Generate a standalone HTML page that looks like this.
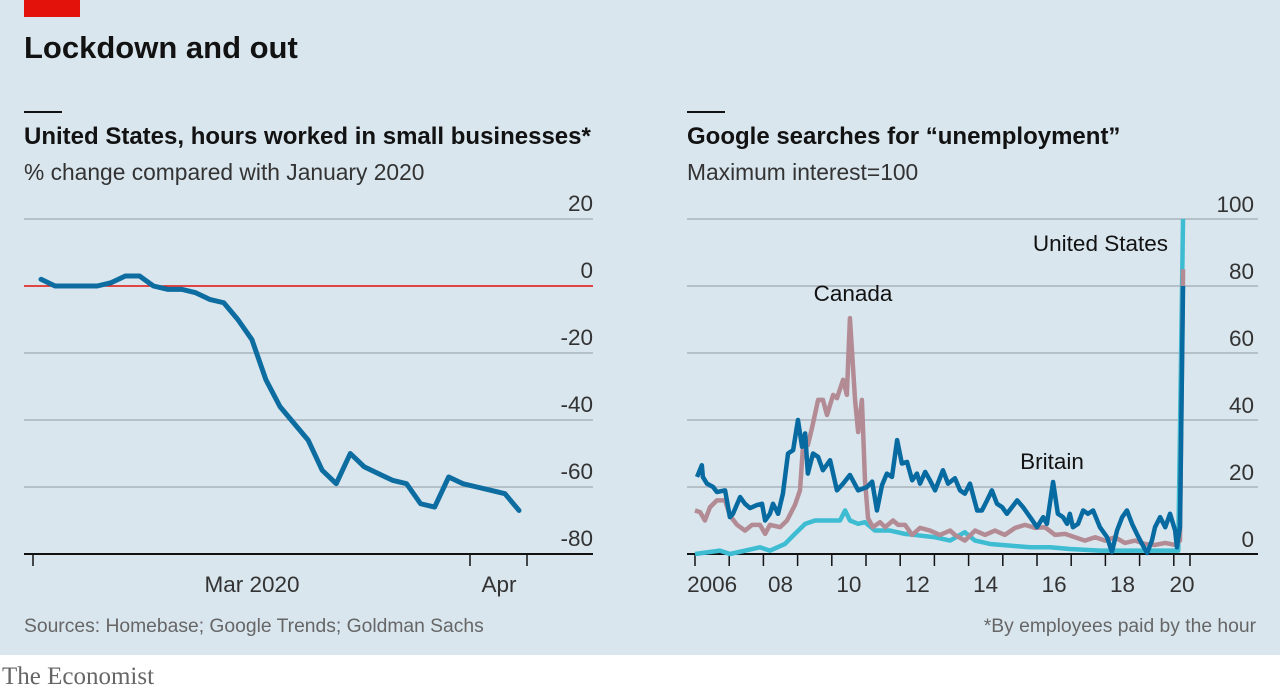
<!DOCTYPE html>
<html><head><meta charset="utf-8">
<style>
body{margin:0;width:1280px;height:691px;overflow:hidden;background:#fff;font-family:"Liberation Sans",sans-serif}
#bg{position:absolute;left:0;top:0;width:1280px;height:655px;background:#d9e6ee}
</style></head>
<body>
<div id="bg"></div>
<svg id="svg" width="1280" height="691" style="position:absolute;left:0;top:0" font-family="Liberation Sans, sans-serif">
<rect x="24" y="0" width="56" height="17" fill="#e3120b"/>
<text x="24" y="58" font-size="31" font-weight="bold" fill="#121212">Lockdown and out</text>
<rect x="24" y="111" width="38" height="2" fill="#121212"/>
<text x="24" y="144" font-size="24" font-weight="bold" fill="#121212">United States, hours worked in small businesses*</text>
<text x="24" y="180" font-size="22.8" fill="#333">% change compared with January 2020</text>
<rect x="687" y="111" width="38" height="2" fill="#121212"/>
<text x="687" y="144" font-size="24" font-weight="bold" fill="#121212">Google searches for “unemployment”</text>
<text x="687" y="180" font-size="22.8" fill="#333">Maximum interest=100</text>
<text x="24" y="632" font-size="19.3" fill="#666">Sources: Homebase; Google Trends; Goldman Sachs</text>
<text x="1256" y="632" font-size="19.3" fill="#666" text-anchor="end">*By employees paid by the hour</text>
<text x="2" y="684" font-size="25" fill="#666" font-family="Liberation Serif, serif">The Economist</text>
<g id="left"></g><g id="right"></g>
</svg>
<script>
// Left chart data
const leftDays = [0,2,4,6,8,10,12,14,16,18,20,22,24,26,28,30,32,34,36,38,40,42,44,46,48,50,52,54,56,58,60,62,64,66,68];
const leftVals = [2,0,0,0,0,1,3,3,0,-1,-1,-2,-4,-5,-10,-16,-28,-36,-41,-46,-55,-59,-50,-54,-56,-58,-59,-65,-66,-57,-59,-60,-61,-62,-67];
const leftTicks = [20,0,-20,-40,-60,-80];
// Right chart data
const rightTicks = [100,80,60,40,20,0];
const yearLabels = ["2006","08","10","12","14","16","18","20"];
const yearLabelYears = [2006,2008,2010,2012,2014,2016,2018,2020];
const britainYears = [2006.06,2006.20,2006.23,2006.35,2006.53,2006.64,2006.88,2007.02,2007.11,2007.32,2007.46,2007.61,2007.81,2007.96,2008.05,2008.19,2008.28,2008.43,2008.57,2008.72,2008.87,2009.01,2009.13,2009.22,2009.30,2009.45,2009.60,2009.74,2009.95,2010.15,2010.33,2010.53,2010.77,2011.03,2011.18,2011.32,2011.47,2011.61,2011.76,2011.91,2012.05,2012.20,2012.35,2012.49,2012.58,2012.73,2012.87,2013.02,2013.25,2013.40,2013.60,2013.75,2013.89,2014.04,2014.25,2014.39,2014.54,2014.68,2014.83,2014.98,2015.12,2015.27,2015.42,2015.59,2015.80,2016.00,2016.18,2016.29,2016.47,2016.61,2016.76,2016.88,2016.96,2017.05,2017.20,2017.35,2017.49,2017.64,2017.84,2018.05,2018.19,2018.34,2018.49,2018.63,2018.78,2018.92,2019.07,2019.22,2019.36,2019.45,2019.60,2019.75,2019.89,2020.04,2020.09,2020.18,2020.27];
const britainVals = [23,26.5,23,21,20,18.5,19,11,12,17,15,13.7,14.6,15,10,12,15,12,18,30,31,40,32,36,24,30,29,25,28,19,21,23.6,19,20,21.6,13,20.6,24,23,34,27,27.5,22,24,21,24.5,22,19,25,21,22.6,19,18,21,13,13,16,19,15,14,12,14,16,14,11,8,11,9,21.5,12,11,9,12,8,9,13,12,13,8,5,0.6,7,11,13,9,6,3,0.3,4,8,11,8,12,7,2,8,80];
const usYears = [2006.0,2006.73,2007.02,2007.90,2008.19,2008.63,2008.92,2009.22,2009.51,2009.95,2010.24,2010.39,2010.53,2010.77,2010.97,2011.26,2011.70,2012.14,2012.58,2013.02,2013.46,2013.89,2014.19,2014.63,2015.21,2015.80,2016.38,2016.96,2017.84,2018.72,2019.60,2020.13,2020.27];
const usVals = [0,1,0,2,1,3,6,9,10,10,10,13,10,9,9.5,7,7,6,5.5,5,4,6.5,4,3,2.5,2,2,1.5,1,1,1,1,100];
const canadaYears = [2006.0,2006.15,2006.29,2006.44,2006.64,2006.88,2007.02,2007.23,2007.46,2007.67,2007.90,2008.05,2008.19,2008.49,2008.69,2008.92,2009.07,2009.16,2009.30,2009.42,2009.60,2009.74,2009.86,2010.04,2010.15,2010.33,2010.44,2010.53,2010.68,2010.77,2010.88,2010.97,2011.06,2011.20,2011.41,2011.56,2011.79,2011.94,2012.14,2012.35,2012.58,2012.87,2013.16,2013.46,2013.60,2013.89,2014.19,2014.48,2014.77,2015.06,2015.36,2015.65,2015.94,2016.23,2016.53,2016.82,2017.11,2017.40,2017.70,2017.99,2018.28,2018.57,2018.87,2019.16,2019.45,2019.75,2020.04,2020.18,2020.27];
const canadaVals = [13,12.5,10,14,16,16,11.5,8.7,7,8.7,8.7,6,8.7,8,10,14.6,19,32.5,32.5,37.6,46,46,41.5,47.5,46.5,52,47.5,70.4,46,36.4,46,22,10.7,8,9.5,8,10,8.7,8.7,5.7,7.8,7,5.7,7,5.7,4,7,5.7,7,5.7,7.8,8.7,7.8,8,5.7,6,5,4,5,4,5,3.3,4,3,2.7,3.3,2.7,4,85];

const NS="http://www.w3.org/2000/svg";
function mk(parent,tag,attrs){const e=document.createElementNS(NS,tag);for(const k in attrs)e.setAttribute(k,attrs[k]);parent.appendChild(e);return e;}
const yScaleL=v=>286-v*3.35;
const xScaleL=d=>41+d*(519-41)/68;
const yScaleR=v=>554-v*3.35;
const xScaleR=y=>695+(y-2006)*34.2;

const L=document.getElementById('left');
leftTicks.forEach(t=>{
  const l=mk(L,'line',{x1:24,x2:593,y1:yScaleL(t),y2:yScaleL(t),stroke:t===0?'#e3120b':(t===-80?'#121212':'#aab4bb'),'stroke-width':t===-80?2:1.5});
  
  
  const tx=mk(L,'text',{x:593,y:yScaleL(t)-8,'text-anchor':'end','font-size':22.5,fill:'#333'});
  tx.textContent=String(t);
  
  
});
[33,470,527].forEach(x=>{
  const tk=mk(L,'line',{x1:x,x2:x,y1:554,y2:566,stroke:'#121212','stroke-width':1.5});
  
  
});
[["Mar 2020",252],["Apr",499]].forEach(([s,x])=>{
  const tx=mk(L,'text',{x:x,y:592,'text-anchor':'middle','font-size':22.5,fill:'#333'});
  tx.textContent=s;
  
  
});
const lp=mk(L,'polyline',{points:leftDays.map((d,i)=>xScaleL(d)+','+yScaleL(leftVals[i])).join(' '),fill:'none',stroke:'#0e6da0','stroke-width':5,'stroke-linejoin':'round','stroke-linecap':'round'});



const R=document.getElementById('right');
rightTicks.forEach(t=>{
  const l=mk(R,'line',{x1:687,x2:1258,y1:yScaleR(t),y2:yScaleR(t),stroke:t===0?'#121212':'#aab4bb','stroke-width':t===0?2:1.5});
  
  
  const tx=mk(R,'text',{x:1254,y:yScaleR(t)-7,'text-anchor':'end','font-size':22.5,fill:'#333'});
  tx.textContent=String(t);
  
  
});
for(let y=2006;y<=2020;y++){
  const tk=mk(R,'line',{x1:xScaleR(y),x2:xScaleR(y),y1:554,y2:566,stroke:'#121212','stroke-width':1.5});
  
  
}
const tkEnd=mk(R,'line',{x1:1190,x2:1190,y1:554,y2:566,stroke:'#121212','stroke-width':1.5});


yearLabels.forEach((s,i)=>{
  const y=yearLabelYears[i];
  const cx=y===2020?1182:xScaleR(y+0.5);
  const tx=mk(R,'text',{x:cx,y:592,'text-anchor':'middle','font-size':22.5,fill:'#333'});
  tx.textContent=s;
  
  
});
function series(years,vals,color,name){
  const p=mk(R,'polyline',{points:years.map((y,i)=>xScaleR(y)+','+yScaleR(vals[i])).join(' '),fill:'none',stroke:color,'stroke-width':4.5,'stroke-linejoin':'round'});
  
  
}
series(usYears,usVals,'#3ebcd2','united-states-line');
series(canadaYears,canadaVals,'#b38b94','canada-line');
series(britainYears,britainVals,'#076aa0','britain-line');
[["United States",1168,251,'end','us-label'],["Canada",853,301,'middle','canada-label'],["Britain",1052,469,'middle','britain-label']].forEach(([s,x,y,a,n])=>{
  const tx=mk(R,'text',{x:x,y:y,'text-anchor':a,'font-size':22.5,fill:'#121212'});
  tx.textContent=s;
  
  
});
</script>
</body></html>
